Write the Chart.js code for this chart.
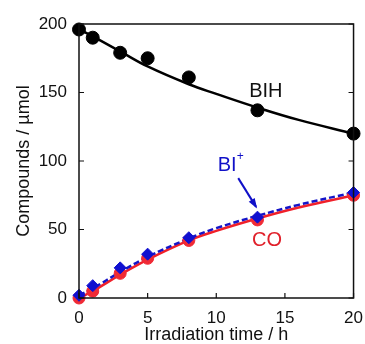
<!DOCTYPE html>
<html>
<head>
<meta charset="utf-8">
<script src="https://cdn.jsdelivr.net/npm/chart.js@4.4.3/dist/chart.umd.min.js"></script>
<style>
  html, body { margin: 0; padding: 0; background: #fff; }
  #wrap { width: 365px; height: 344px; }
</style>
</head>
<body>
<div id="wrap"><canvas id="chart" width="365" height="344"></canvas></div>
<script>
const timeH = [0, 1, 3, 5, 8, 13, 20];
const bihValues = [196, 190, 179, 175, 161, 137, 120];
const coValues = [0, 5, 18, 29, 42, 57, 75];
const biValues = [2, 9, 22, 32, 44, 59, 77];

// fitted curves
const fitTime = [0, 1, 3, 5, 8, 10, 13, 16, 20];
const bihFit = [196, 191, 180, 169, 156, 149, 139, 130, 120];
const coFit = [0, 5, 17, 28, 42, 49, 58, 66, 75];
const biFit = [2, 7, 19, 30, 43.5, 51, 60, 68, 77];

const xTicks = [0, 5, 10, 15, 20];
const yTicks = [0, 50, 100, 150, 200];

const FONT = "'Liberation Sans', Arial, sans-serif";
const pts = (xs, ys) => xs.map((x, i) => ({ x: x, y: ys[i] }));

// frame, inward ticks and text annotations
const framePlugin = {
  id: "frame",
  afterDatasetsDraw(chart) {
    const { ctx, chartArea: a, scales } = chart;
    const px = v => scales.x.getPixelForValue(v);
    const py = v => scales.y.getPixelForValue(v);
    ctx.save();
    ctx.strokeStyle = "#111";
    ctx.lineWidth = 1.5;
    ctx.strokeRect(a.left, a.top, a.right - a.left, a.bottom - a.top);
    ctx.lineWidth = 1.2;
    yTicks.forEach(v => {
      ctx.beginPath();
      ctx.moveTo(a.left, py(v)); ctx.lineTo(a.left + 5, py(v));
      ctx.moveTo(a.right, py(v)); ctx.lineTo(a.right - 5, py(v));
      ctx.stroke();
    });
    xTicks.forEach(v => {
      ctx.beginPath();
      ctx.moveTo(px(v), a.bottom); ctx.lineTo(px(v), a.bottom - 5);
      ctx.stroke();
    });

    ctx.font = "20px " + FONT;
    ctx.textBaseline = "middle";
    ctx.fillStyle = "#111";
    ctx.fillText("BIH", px(12.4), py(151));
    ctx.fillStyle = "#e0202a";
    ctx.fillText("CO", px(12.6), py(42));
    ctx.fillStyle = "#1010c8";
    const bx = px(10.1), by = py(97);
    ctx.fillText("BI", bx, by);
    ctx.font = "12px " + FONT;
    ctx.fillText("+", bx + 19, by - 8);

    // arrow
    const x0 = px(11.6), y0 = py(87.5);
    const x1 = px(12.9), y1 = py(66.5);
    ctx.strokeStyle = "#1010c8";
    ctx.lineWidth = 2;
    ctx.beginPath(); ctx.moveTo(x0, y0); ctx.lineTo(x1, y1); ctx.stroke();
    const ang = Math.atan2(y1 - y0, x1 - x0);
    ctx.beginPath();
    ctx.moveTo(x1 + 2 * Math.cos(ang), y1 + 2 * Math.sin(ang));
    ctx.lineTo(x1 - 9 * Math.cos(ang - 0.4), y1 - 9 * Math.sin(ang - 0.4));
    ctx.lineTo(x1 - 9 * Math.cos(ang + 0.4), y1 - 9 * Math.sin(ang + 0.4));
    ctx.closePath();
    ctx.fillStyle = "#1010c8";
    ctx.fill();
    ctx.restore();
  }
};

new Chart(document.getElementById("chart"), {
  type: "scatter",
  data: {
    datasets: [
      { data: pts(fitTime, coFit), showLine: true, borderColor: "#f0202a", borderWidth: 2.5, pointRadius: 0, tension: 0.4, order: 6 },
      { data: pts(fitTime, biFit), showLine: true, borderColor: "#1515c8", borderWidth: 2.5, borderDash: [6, 3], pointRadius: 0, tension: 0.4, order: 5 },
      { data: pts(fitTime, bihFit), showLine: true, borderColor: "#000", borderWidth: 2.5, pointRadius: 0, tension: 0.4, order: 4 },
      { data: pts(timeH, coValues), backgroundColor: "#f02a35", borderColor: "#f02a35", pointRadius: 6, order: 3 },
      { data: pts(timeH, biValues), backgroundColor: "#1010d0", borderColor: "#1010d0", pointStyle: "rectRot", pointRadius: 6, order: 2 },
      { data: pts(timeH, bihValues), backgroundColor: "#000", borderColor: "#000", pointRadius: 6.5, order: 1 }
    ]
  },
  options: {
    responsive: false,
    animation: false,
    clip: false,
    layout: { padding: { top: 24, right: 11, left: 0, bottom: 0 } },
    plugins: { legend: { display: false }, tooltip: { enabled: false } },
    scales: {
      x: {
        type: "linear", min: 0, max: 20,
        afterBuildTicks: s => { s.ticks = xTicks.map(v => ({ value: v })); },
        afterFit: s => { s.height = 46; },
        grid: { display: false },
        border: { display: false },
        ticks: { color: "#111", font: { size: 17, family: FONT }, padding: 2, maxRotation: 0 },
        title: { display: true, text: "Irradiation time / h", color: "#111", font: { size: 18, family: FONT }, padding: { top: 0, bottom: -2 } }
      },
      y: {
        type: "linear", min: 0, max: 200,
        afterBuildTicks: s => { s.ticks = yTicks.map(v => ({ value: v })); },
        afterFit: s => { s.width = 79; },
        grid: { display: false },
        border: { display: false },
        ticks: { color: "#111", font: { size: 17, family: FONT }, padding: 4 },
        title: { display: true, text: "Compounds / µmol", color: "#111", font: { size: 18, family: FONT }, padding: { top: 13, bottom: 0 } }
      }
    }
  },
  plugins: [framePlugin]
});
</script>
</body>
</html>
